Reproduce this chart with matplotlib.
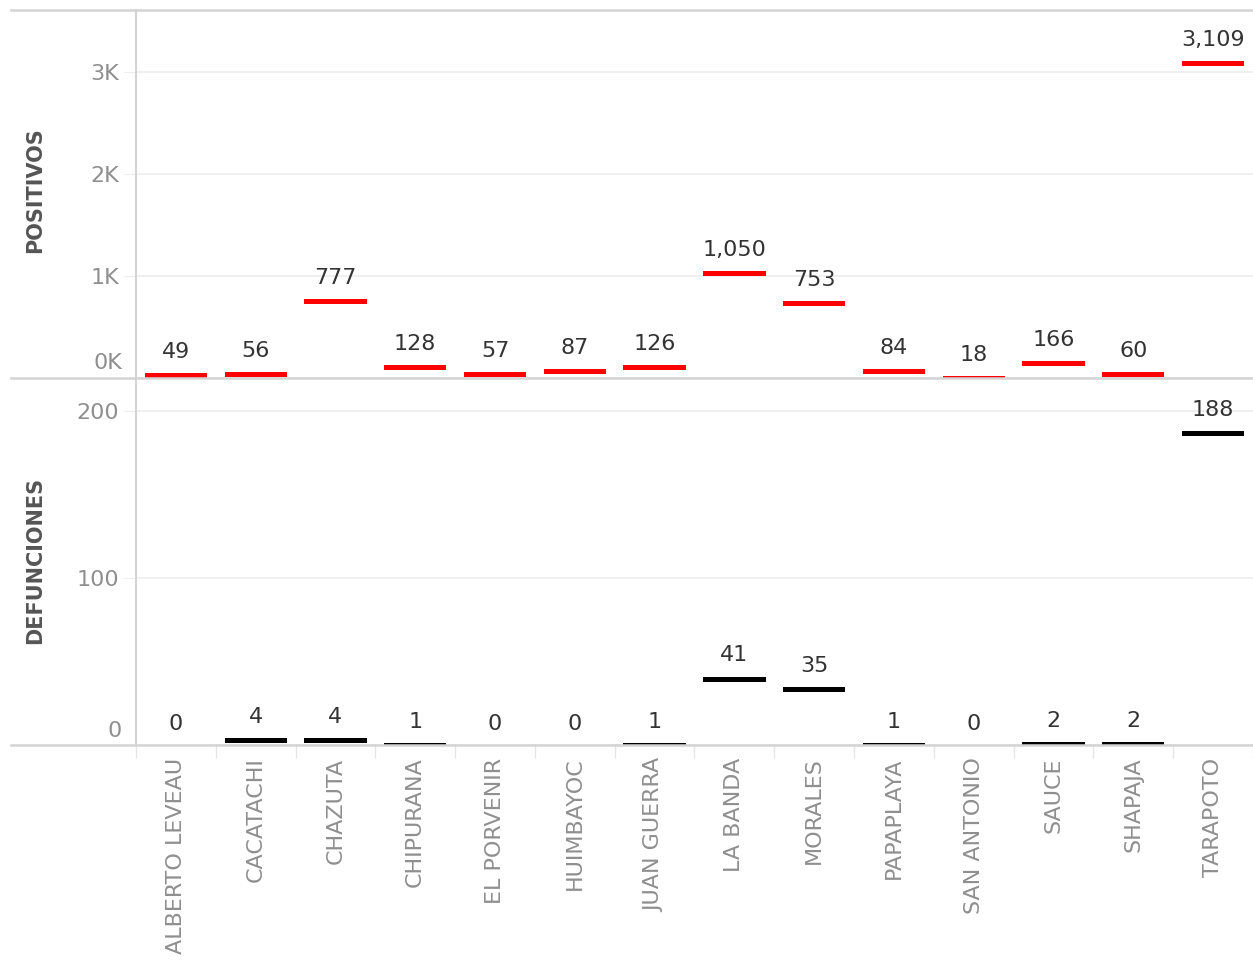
import numpy as np
import matplotlib
matplotlib.use('Agg')
import matplotlib.pyplot as plt
from matplotlib.lines import Line2D

distritos = ['ALBERTO LEVEAU', 'CACATACHI', 'CHAZUTA', 'CHIPURANA', 'EL PORVENIR',
             'HUIMBAYOC', 'JUAN GUERRA', 'LA BANDA', 'MORALES', 'PAPAPLAYA',
             'SAN ANTONIO', 'SAUCE', 'SHAPAJA', 'TARAPOTO']
positivos = [49, 56, 777, 128, 57, 87, 126, 1050, 753, 84, 18, 166, 60, 3109]
defunciones = [0, 4, 4, 1, 0, 0, 1, 41, 35, 1, 0, 2, 2, 188]

pos_ticks = [0, 1000, 2000, 3000]
pos_tick_labels = ['0K', '1K', '2K', '3K']
def_ticks = [0, 100, 200]
def_tick_labels = ['0', '100', '200']

W, H = 1253, 960
LINE = '#d4d4d4'
GRID = '#ededed'
TICK_TXT = '#8f8f8f'
LABEL_TXT = '#333333'
MARK_PX = 5  # thickness of the gantt marks in pixels


def fx(px):
    return px / W


def fy(py):
    return 1 - py / H


fig = plt.figure(figsize=(W / 100, H / 100), dpi=100)
top_px, mid_px, bot_px = 10, 378, 745
ax_top = fig.add_axes([fx(136), fy(mid_px), 1 - fx(136), fy(top_px) - fy(mid_px)])
ax_bot = fig.add_axes([fx(136), fy(bot_px), 1 - fx(136), fy(mid_px) - fy(bot_px)])

x = np.arange(len(distritos))


def draw_panel(ax, values, color, ymax, ticks, tick_labels, panel_px, zero_off):
    ax.set_xlim(-0.5, len(distritos) - 0.5)
    ax.set_ylim(0, ymax)
    # tableau gantt mark: hangs down from the value
    h = ymax * MARK_PX / panel_px
    ax.bar(x, -h, bottom=values, width=0.78, color=color, zorder=3)
    for xi, v in zip(x, values):
        ax.annotate(f'{v:,}', (xi, v), xytext=(0, 8), textcoords='offset points',
                    ha='center', va='bottom', fontsize=16, color=LABEL_TXT)
    ax.set_yticks(ticks, [''] + tick_labels[1:])
    ax.annotate(tick_labels[0], xy=(0, ticks[0]), xycoords=('axes fraction', 'data'),
                xytext=(-14, zero_off), textcoords='offset pixels',
                ha='right', va='bottom', fontsize=16, color=TICK_TXT)
    ax.yaxis.grid(True, color=GRID, lw=1.2)
    ax.set_axisbelow(True)
    ax.tick_params(axis='y', length=9, color=GRID, labelsize=16, labelcolor=TICK_TXT, pad=3)
    for s in ['top', 'right', 'bottom']:
        ax.spines[s].set_visible(False)
    ax.spines['left'].set_color(LINE)
    ax.spines['left'].set_linewidth(1.5)


draw_panel(ax_top, positivos, '#ff0000', 3608, pos_ticks, pos_tick_labels, mid_px - top_px, 5)
draw_panel(ax_bot, defunciones, '#000000', 220, def_ticks, def_tick_labels, bot_px - mid_px, 4)

ax_top.set_xticks([])
ax_bot.set_xticks(x, distritos, rotation=90)
ax_bot.set_xticks(np.arange(-0.5, len(distritos), 1), minor=True)
ax_bot.tick_params(axis='x', which='major', length=0, pad=9, labelsize=16, labelcolor=TICK_TXT)
ax_bot.tick_params(axis='x', which='minor', length=9, color='#e6e6e6', width=1)

# horizontal rules across the full width
for py in [top_px, mid_px, bot_px]:
    fig.add_artist(Line2D([fx(11), 1], [fy(py), fy(py)], color=LINE, lw=1.8,
                          transform=fig.transFigure, zorder=5))

fig.text(fx(35), fy(190), 'POSITIVOS', rotation=90, ha='center', va='center',
         fontsize=15, fontweight='bold', color='#555555')
fig.text(fx(35), fy(560), 'DEFUNCIONES', rotation=90, ha='center', va='center',
         fontsize=15, fontweight='bold', color='#555555')

fig.savefig('out.png', dpi=100)
